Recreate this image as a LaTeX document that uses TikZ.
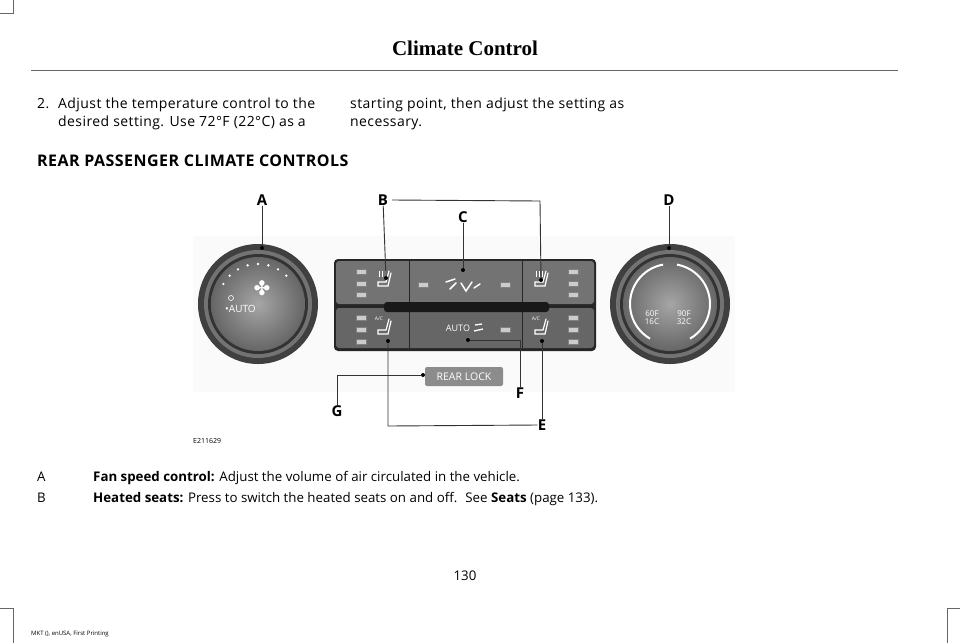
\documentclass[tikz,border=0pt]{standalone}
\usepackage{fontspec}
\setmainfont{Open Sans}
\newfontfamily\serifhead{Liberation Serif}
\newfontfamily\symf{DejaVu Sans}
\newfontfamily\spaced[LetterSpace=3]{Open Sans}
\begin{document}
\begin{tikzpicture}[x=1pt,y=-1pt,
  body/.style={anchor=base west,inner sep=0,font=\fontsize{13.3}{14}\selectfont},
  topt/.style={anchor=base west,inner sep=0,font=\spaced\fontsize{14}{14}\selectfont},
  lbl/.style={font=\fontsize{15}{16}\selectfont\bfseries,inner sep=0},
  callout/.style={line width=0.9pt,black!80},
  dotc/.style={fill=black,circle,inner sep=0,minimum size=4pt},
  led/.style={fill=black!20,draw=black!50,line width=0.3pt,minimum width=10pt,minimum height=5pt,inner sep=0},
  crop/.style={line width=0.8pt,black!60}]
\useasboundingbox (0,0) rectangle (960,643);
% crop marks
\draw[crop] (13,0) -- (13,13) -- (0,13);
\draw[crop] (0,608) -- (13,608) -- (13,643);
\draw[crop] (960,608) -- (947,608) -- (947,643);
% header
\node[inner sep=0,font=\serifhead\fontsize{21}{22}\selectfont\bfseries] (title) at (465,48) {Climate Control};
\draw[line width=1pt,black!60] (31,70) -- (898,70);
% text
\node[topt] (n2) at (37,108) {2.};
\node[topt] (t1) at (58,108) {Adjust the temperature control to the};
\node[topt] (t2) at (58,126) {desired setting. Use 72°F (22°C) as a};
\node[topt] (t3) at (350,108) {starting point, then adjust the setting as};
\node[topt] (t4) at (350,126) {necessary.};
\node[anchor=base west,inner sep=0,font=\spaced\fontsize{16}{16}\selectfont\bfseries] (head) at (37,166) {REAR PASSENGER CLIMATE CONTROLS};
% background band
\fill[black!2] (193,236) rectangle (735,392);
% knob A
\fill[black!75] (258,304) circle (60);
\fill[black!55] (258,304) circle (54);
\fill[black!80] (258,304) circle (50);
\shade[inner color=black!35,outer color=black!60] (258,304) circle (47);
\foreach \a in {-150,-135,-120,-105,-90,-75,-60,-45}{\fill[white] (258,304) ++(\a:40) circle (1.3);}
\node[text=white,inner sep=0,font=\symf\fontsize{20}{20}\selectfont] (fanicon) at (262,288) {✤};
\node[text=white,inner sep=0,font=\fontsize{10}{10}\selectfont,anchor=west] (auto1) at (225,309) {•AUTO};
\draw[white,line width=0.6pt] (231,298) circle (2.5);
% knob D
\fill[black!75] (670,304) circle (60);
\fill[black!55] (670,304) circle (54);
\fill[black!80] (670,304) circle (50);
\shade[inner color=black!35,outer color=black!60] (670,304) circle (47);
\draw[white,line width=2pt] (670,304) ++(-100:40) arc (-100:-240:40);
\draw[white,line width=2pt] (670,304) ++(-80:40) arc (-80:60:40);
\node[text=white,inner sep=0,align=center,font=\fontsize{8}{8}\selectfont] (lo) at (652,318) {60F\\16C};
\node[text=white,inner sep=0,align=center,font=\fontsize{8}{8}\selectfont] (hi) at (684,318) {90F\\32C};
% panel
\fill[black!85,rounded corners=4pt] (334,259) rectangle (596,351);
\fill[black!55,rounded corners=3pt] (336,261) rectangle (594,304);
\fill[black!60,rounded corners=3pt] (336,308) rectangle (594,348);
\draw[black!85,line width=1pt] (409,261) -- (409,348) (522,261) -- (522,348);
\fill[black!90,rounded corners=3pt] (384,302) rectangle (549,312);
\foreach \y in {272,284,295,318,330,342}{\node[led] at (361,\y) {}; \node[led] at (573,\y) {};}
\node[led] at (423,285) {};
\node[led] at (505,285) {};
\node[led] at (505,330) {};
% seat icons
\foreach \x/\y in {384/280,541/280,384/328,541/328}{
  \draw[white,line width=1.2pt,line cap=round] (\x+5,\y-9) -- (\x+2,\y+2) -- (\x-6,\y+2) -- (\x-6,\y+6) -- (\x+4,\y+6) -- (\x+7,\y-7);
}
\foreach \x in {384,541}{\foreach \d in {-4,-1,2}{\draw[white,line width=0.6pt] (\x+\d-1,271) -- (\x+\d-1,277);}}
\foreach \x in {384,541}{\node[white,inner sep=0,font=\fontsize{5}{5}\selectfont] at (\x-5,319) {A/C};}
% vent icons
\draw[white,line width=1.5pt,line cap=round] (446,282) -- (455,279) (450,289) -- (456,283) (461,283) -- (466,291) -- (472,282) (474,288) -- (480,284);
\node[white,inner sep=0,font=\fontsize{9}{9}\selectfont] (auto2) at (458,328) {AUTO};
\draw[white,line width=1.3pt] (475,325) -- (482,324) (474,331) -- (483,329);
% rear lock
\fill[black!45,rounded corners=2pt] (425,367) rectangle (503,386);
\node[white,inner sep=0,font=\fontsize{10.5}{11}\selectfont] (rl) at (464,377) {REAR LOCK};
% labels
\node[lbl] (A) at (262,200) {A};
\node[lbl] (B) at (383,200) {B};
\node[lbl] (C) at (463,217) {C};
\node[lbl] (D) at (669,200) {D};
\node[lbl] (F) at (520,393) {F};
\node[lbl] (G) at (337,411) {G};
\node[lbl] (E) at (542,425) {E};
\node[dotc] (dA) at (262,248) {};
\node[dotc] (dB1) at (386,278) {};
\node[dotc] (dB2) at (541,280) {};
\node[dotc] (dC) at (463,270) {};
\node[dotc] (dD) at (669,248) {};
\node[dotc] (dF) at (468,340) {};
\node[dotc] (dG) at (423,375) {};
\node[dotc] (dE1) at (388,341) {};
\node[dotc] (dE2) at (542,341) {};
\coordinate (bc) at (540,201);
\draw[callout] (A) -- (dA);
\draw[callout] (B) -- (dB1);
\draw[callout] (B.east) ++(4,0) -- (bc) -- (dB2);
\draw[callout] (C) -- (dC);
\draw[callout] (D) -- (dD);
\draw[callout] (dF) -- (520,340) -- (F.north);
\draw[callout] (G.north) -- (337,375) -- (dG);
\draw[callout] (dE1) -- (388,426) -- (E.west);
\draw[callout] (dE2) -- (E.north);
\node[inner sep=0,anchor=base west,font=\fontsize{7}{7}\selectfont] (code) at (193,443) {E211629};
% legend
\node[body] (la) at (37,481) {A};
\node[body] (lat) at (93,481) {\textbf{Fan speed control:} Adjust the volume of air circulated in the vehicle.};
\node[body] (lb) at (37,502) {B};
\node[body] (lbt) at (93,502) {\textbf{Heated seats:} Press to switch the heated seats on and off.~ See \textbf{Seats} (page 133).};
\node[body,anchor=base] (pg) at (465,580) {130};
\node[inner sep=0,anchor=base west,font=\fontsize{6}{6}\selectfont] (foot) at (31,635) {MKT (), enUSA, First Printing};
\end{tikzpicture}
\end{document}
